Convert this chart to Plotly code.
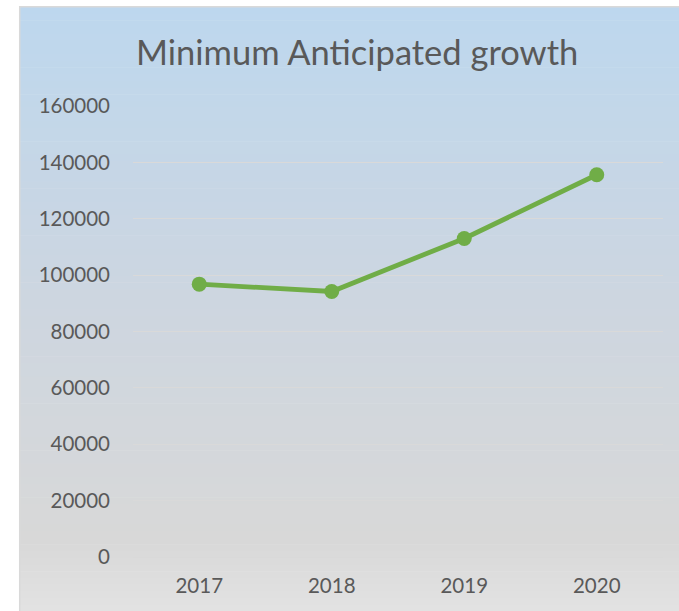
import plotly.graph_objects as go

# ---- data ----
years = ["2017", "2018", "2019", "2020"]
values = [96800, 94200, 113000, 135600]
y_ticks = [0, 20000, 40000, 60000, 80000, 100000, 120000, 140000, 160000]
title_text = "Minimum Anticipated growth"

# ---- layout geometry (pixels) ----
W, H = 679, 611
PL, PR, PT, PB = 132.7, 663.3, 106.0, 557.5   # plot area edges
pw, ph = PR - PL, PB - PT


def px2x(px):
    return (px - PL) / pw


def py2y(py):
    return (PB - py) / ph


def lerp(c1, c2, t):
    return tuple(round(a + (b - a) * t) for a, b in zip(c1, c2))


stops = [(6.7, (189, 215, 238)), (300.0, (205, 214, 224)), (540.0, (216, 216, 216)), (612.0, (226, 226, 226))]


def grad_color(py):
    for (y0, c0), (y1, c1) in zip(stops[:-1], stops[1:]):
        if py <= y1:
            t = max(0.0, (py - y0) / (y1 - y0))
            return lerp(c0, c1, t)
    return stops[-1][1]


shapes = []
N = 90
top, bot = 6.7, 612.0
band = (bot - top) / N
for i in range(N):
    y0 = top + i * band
    y1 = y0 + band + 0.6
    c = grad_color(y0 + band / 2)
    shapes.append(dict(type="rect", xref="paper", yref="paper",
                       x0=px2x(19.3), x1=px2x(700), y0=py2y(y1), y1=py2y(y0),
                       fillcolor="rgb(%d,%d,%d)" % c, line=dict(width=0), layer="below"))
# border
shapes.append(dict(type="rect", xref="paper", yref="paper",
                   x0=px2x(19.3), x1=px2x(700), y0=py2y(615), y1=py2y(6.7),
                   fillcolor="rgba(0,0,0,0)", line=dict(color="#D9D9D9", width=1.5), layer="below"))

fig = go.Figure()
fig.add_trace(go.Scatter(
    x=years, y=values, mode="lines+markers",
    line=dict(color="#70AD47", width=4.8),
    marker=dict(color="#70AD47", size=15),
    hoverinfo="x+y", showlegend=False,
))

FONT = "Lato"
fig.update_layout(
    width=W, height=H,
    margin=dict(l=PL, r=W - PR, t=PT, b=H - PB, pad=0),
    paper_bgcolor="white",
    plot_bgcolor="rgba(0,0,0,0)",
    shapes=shapes,
    annotations=[dict(text=title_text, xref="paper", yref="paper",
                      x=px2x(356.5), y=py2y(51.5), xanchor="center", yanchor="middle",
                      showarrow=False, font=dict(family=FONT, size=34.5, color="#595959"))],
    xaxis=dict(type="category", range=[-0.5, 3.5], showgrid=False, zeroline=False,
               showline=False, ticks="outside", ticklen=10, tickcolor="rgba(0,0,0,0)",
               tickfont=dict(family=FONT, size=20.5, color="#595959")),
    yaxis=dict(range=[0, 160000], tickvals=y_ticks, ticktext=[str(v) for v in y_ticks],
               showgrid=True, gridcolor="#D9D9D9", gridwidth=1.3,
               zeroline=True, zerolinecolor="#D9D9D9", zerolinewidth=1.3,
               showline=False, ticks="", ticklabelstandoff=22,
               tickfont=dict(family=FONT, size=20.5, color="#595959")),
)

fig.write_html("out.html", config={"displayModeBar": False},
               post_script="document.body.style.margin='0';document.body.style.overflow='hidden';"
                           "document.documentElement.style.overflow='hidden';")
